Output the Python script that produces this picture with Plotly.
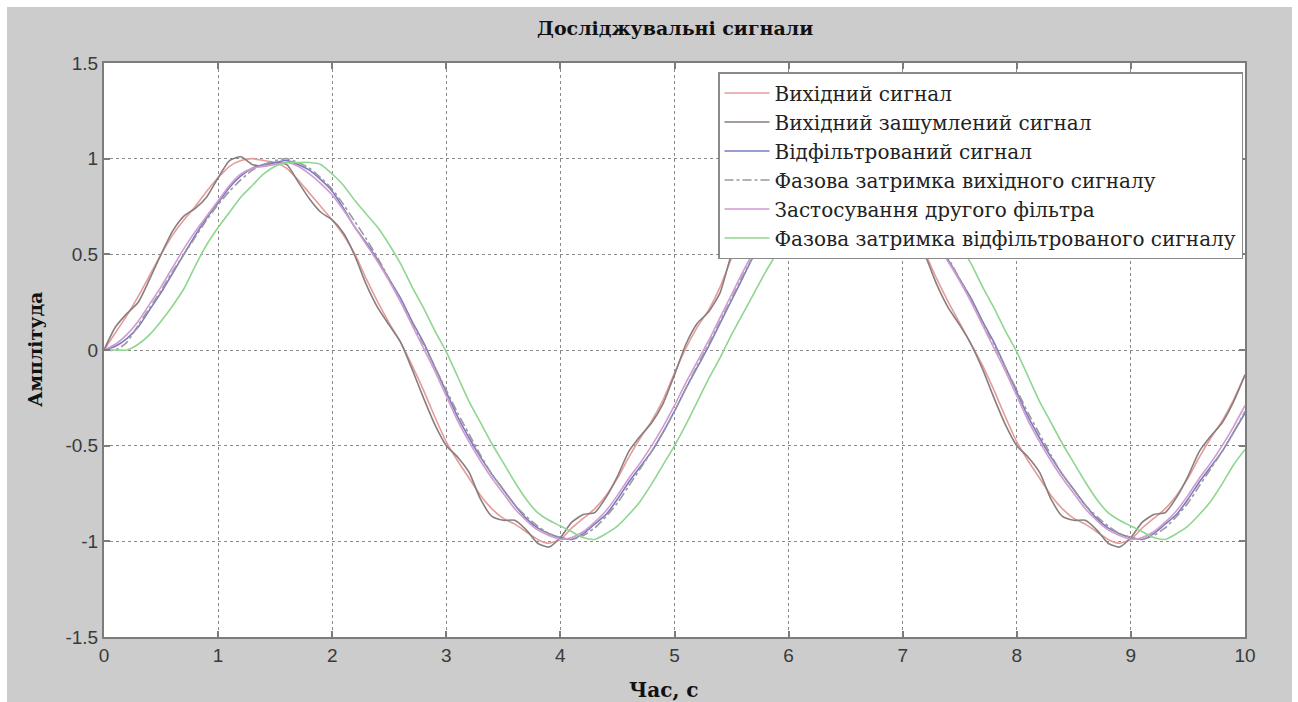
import plotly.graph_objects as go

# Sampling instants, s
time_s = [
    0.0, 0.1, 0.2, 0.3, 0.4, 0.5, 0.6, 0.7, 0.8, 0.9,
    1.0, 1.1, 1.2, 1.3, 1.4, 1.5, 1.6, 1.7, 1.8, 1.9,
    2.0, 2.1, 2.2, 2.3, 2.4, 2.5, 2.6, 2.7, 2.8, 2.9,
    3.0, 3.1, 3.2, 3.3, 3.4, 3.5, 3.6, 3.7, 3.8, 3.9,
    4.0, 4.1, 4.2, 4.3, 4.4, 4.5, 4.6, 4.7, 4.8, 4.9,
    5.0, 5.1, 5.2, 5.3, 5.4, 5.5, 5.6, 5.7, 5.8, 5.9,
    6.0, 6.1, 6.2, 6.3, 6.4, 6.5, 6.6, 6.7, 6.8, 6.9,
    7.0, 7.1, 7.2, 7.3, 7.4, 7.5, 7.6, 7.7, 7.8, 7.9,
    8.0, 8.1, 8.2, 8.3, 8.4, 8.5, 8.6, 8.7, 8.8, 8.9,
    9.0, 9.1, 9.2, 9.3, 9.4, 9.5, 9.6, 9.7, 9.8, 9.9,
    10.0,
]

source_signal = [
    0.00, 0.09, 0.18, 0.28, 0.39, 0.50, 0.60, 0.68, 0.75, 0.83,
    0.90, 0.96, 0.99, 1.00, 0.99, 0.98, 0.95, 0.89, 0.82, 0.75,
    0.68, 0.60, 0.50, 0.37, 0.25, 0.14, 0.04, -0.08, -0.21, -0.35,
    -0.48, -0.58, -0.67, -0.76, -0.83, -0.88, -0.91, -0.95, -0.99, -1.01,
    -0.99, -0.93, -0.88, -0.83, -0.76, -0.67, -0.56, -0.46, -0.37, -0.26,
    -0.12, 0.01, 0.12, 0.21, 0.33, 0.48, 0.60, 0.68, 0.76, 0.83,
    0.90, 0.96, 0.99, 1.00, 0.99, 0.98, 0.95, 0.89, 0.82, 0.75,
    0.68, 0.60, 0.50, 0.37, 0.25, 0.14, 0.03, -0.08, -0.21, -0.35,
    -0.48, -0.58, -0.67, -0.76, -0.83, -0.88, -0.91, -0.95, -0.99, -1.01,
    -0.99, -0.93, -0.88, -0.83, -0.76, -0.67, -0.56, -0.46, -0.37, -0.26,
    -0.13,
]

noisy_signal = [
    0.00, 0.12, 0.19, 0.25, 0.37, 0.50, 0.62, 0.70, 0.74, 0.80,
    0.90, 0.99, 1.01, 0.97, 0.96, 0.98, 0.97, 0.88, 0.79, 0.72,
    0.68, 0.61, 0.49, 0.34, 0.22, 0.13, 0.04, -0.10, -0.25, -0.39,
    -0.50, -0.56, -0.64, -0.78, -0.87, -0.89, -0.89, -0.94, -1.01, -1.03,
    -0.98, -0.90, -0.86, -0.85, -0.77, -0.66, -0.53, -0.45, -0.38, -0.28,
    -0.13, 0.03, 0.14, 0.20, 0.30, 0.50, 0.62, 0.70, 0.75, 0.81,
    0.90, 0.99, 1.01, 0.97, 0.96, 0.98, 0.97, 0.88, 0.79, 0.72,
    0.68, 0.61, 0.49, 0.34, 0.22, 0.13, 0.03, -0.10, -0.25, -0.39,
    -0.50, -0.56, -0.64, -0.78, -0.87, -0.89, -0.89, -0.94, -1.01, -1.03,
    -0.98, -0.90, -0.86, -0.85, -0.77, -0.66, -0.53, -0.45, -0.38, -0.27,
    -0.13,
]

filtered_signal = [
    0.00, 0.02, 0.06, 0.12, 0.21, 0.30, 0.40, 0.50, 0.60, 0.69,
    0.77, 0.85, 0.91, 0.95, 0.97, 0.98, 0.99, 0.97, 0.94, 0.89,
    0.83, 0.74, 0.64, 0.56, 0.47, 0.37, 0.27, 0.15, 0.04, -0.09,
    -0.22, -0.35, -0.46, -0.56, -0.65, -0.73, -0.81, -0.88, -0.93, -0.96,
    -0.98, -0.99, -0.96, -0.91, -0.86, -0.78, -0.69, -0.61, -0.53, -0.43,
    -0.32, -0.20, -0.09, 0.02, 0.14, 0.26, 0.38, 0.50, 0.60, 0.69,
    0.77, 0.85, 0.91, 0.95, 0.97, 0.98, 0.99, 0.97, 0.94, 0.89,
    0.83, 0.74, 0.64, 0.56, 0.47, 0.37, 0.27, 0.15, 0.04, -0.09,
    -0.22, -0.35, -0.46, -0.56, -0.65, -0.73, -0.81, -0.88, -0.93, -0.96,
    -0.98, -0.99, -0.96, -0.91, -0.86, -0.78, -0.69, -0.61, -0.53, -0.43,
    -0.33,
]

source_delayed = [
    0.00, 0.00, 0.04, 0.13, 0.22, 0.31, 0.41, 0.50, 0.59, 0.68,
    0.76, 0.83, 0.89, 0.94, 0.97, 0.99, 1.00, 0.98, 0.95, 0.90,
    0.84, 0.76, 0.67, 0.58, 0.48, 0.37, 0.26, 0.14, 0.03, -0.09,
    -0.21, -0.33, -0.44, -0.55, -0.65, -0.73, -0.81, -0.87, -0.92, -0.96,
    -0.98, -0.99, -0.97, -0.93, -0.87, -0.80, -0.71, -0.62, -0.53, -0.43,
    -0.32, -0.20, -0.08, 0.03, 0.15, 0.27, 0.39, 0.50, 0.59, 0.68,
    0.76, 0.83, 0.89, 0.94, 0.97, 0.99, 1.00, 0.98, 0.95, 0.90,
    0.84, 0.76, 0.67, 0.58, 0.48, 0.37, 0.26, 0.14, 0.03, -0.09,
    -0.21, -0.33, -0.44, -0.55, -0.65, -0.73, -0.81, -0.87, -0.92, -0.96,
    -0.98, -0.99, -0.97, -0.93, -0.87, -0.80, -0.71, -0.62, -0.53, -0.43,
    -0.32,
]

second_filter = [
    0.00, 0.03, 0.08, 0.15, 0.24, 0.33, 0.43, 0.53, 0.62, 0.70,
    0.78, 0.86, 0.92, 0.95, 0.96, 0.97, 0.98, 0.96, 0.92, 0.87,
    0.81, 0.73, 0.64, 0.55, 0.46, 0.36, 0.25, 0.13, 0.01, -0.11,
    -0.24, -0.37, -0.48, -0.58, -0.67, -0.75, -0.83, -0.89, -0.94, -0.97,
    -0.99, -0.98, -0.95, -0.90, -0.84, -0.76, -0.67, -0.59, -0.50, -0.40,
    -0.29, -0.17, -0.06, 0.05, 0.17, 0.29, 0.41, 0.52, 0.62, 0.70,
    0.78, 0.86, 0.92, 0.95, 0.96, 0.97, 0.98, 0.96, 0.92, 0.87,
    0.81, 0.73, 0.64, 0.55, 0.46, 0.36, 0.25, 0.13, 0.01, -0.11,
    -0.24, -0.37, -0.48, -0.58, -0.67, -0.75, -0.83, -0.89, -0.94, -0.97,
    -0.99, -0.98, -0.95, -0.90, -0.84, -0.76, -0.67, -0.59, -0.50, -0.40,
    -0.29,
]

filtered_delayed = [
    0.00, 0.00, 0.00, 0.03, 0.08, 0.15, 0.23, 0.32, 0.44, 0.55,
    0.64, 0.72, 0.80, 0.86, 0.92, 0.96, 0.98, 0.98, 0.98, 0.97,
    0.92, 0.86, 0.78, 0.71, 0.64, 0.55, 0.45, 0.33, 0.22, 0.10,
    -0.01, -0.14, -0.27, -0.38, -0.49, -0.59, -0.69, -0.78, -0.85, -0.89,
    -0.92, -0.95, -0.98, -0.99, -0.96, -0.92, -0.86, -0.79, -0.70, -0.60,
    -0.50, -0.39, -0.27, -0.15, -0.04, 0.08, 0.19, 0.30, 0.41, 0.51,
    0.62, 0.71, 0.79, 0.86, 0.92, 0.96, 0.98, 0.98, 0.98, 0.97,
    0.92, 0.86, 0.78, 0.71, 0.64, 0.55, 0.45, 0.33, 0.22, 0.10,
    -0.01, -0.14, -0.27, -0.38, -0.49, -0.59, -0.69, -0.78, -0.85, -0.89,
    -0.92, -0.95, -0.98, -0.99, -0.96, -0.92, -0.86, -0.79, -0.70, -0.60,
    -0.52,
]

series_names = [
    "Вихідний сигнал",
    "Вихідний зашумлений сигнал",
    "Відфільтрований сигнал",
    "Фазова затримка вихідного сигналу",
    "Застосування другого фільтра",
    "Фазова затримка відфільтрованого сигналу",
]
series_values = [source_signal, noisy_signal, filtered_signal,
                 source_delayed, second_filter, filtered_delayed]
series_colors = ["#e49c9c", "#8a7d7d", "#7a7ac4", "#9a9a9a", "#d29ad2", "#8fd68f"]
series_dash = ["solid", "solid", "solid", "dashdot", "solid", "solid"]

x_ticks = [0, 1, 2, 3, 4, 5, 6, 7, 8, 9, 10]
y_ticks = [-1.5, -1, -0.5, 0, 0.5, 1, 1.5]
y_tick_text = ["-1.5", "-1", "-0.5", "0", "0.5", "1", "1.5"]

SERIF = "DejaVu Serif"
SANS = "Liberation Sans, Arial, sans-serif"

fig = go.Figure()
for name, vals, col, dash in zip(series_names, series_values, series_colors, series_dash):
    fig.add_trace(go.Scatter(
        x=time_s, y=vals, name=name, mode="lines",
        line=dict(color=col, width=1.6, dash=dash, shape="spline", smoothing=0.6),
    ))

W, H = 1298, 702
ML, MR, MT, MB = 104, 53, 63, 65
pw, ph = W - ML - MR, H - MT - MB


def px_x(p):
    return (p - ML) / pw


def px_y(p):
    return (H - MB - p) / ph


axis_common = dict(
    showgrid=True, griddash="dot", gridcolor="#8a8a8a", gridwidth=1.4,
    showline=True, linecolor="#7c7c7c", linewidth=2, mirror="ticks",
    ticks="inside", ticklen=6, tickcolor="#7c7c7c", tickwidth=1.5,
    zeroline=False,
    tickfont=dict(family=SANS, size=19, color="#3a3a3a"),
)

fig.update_layout(
    width=W, height=H,
    margin=dict(l=ML, r=MR, t=MT, b=MB, pad=0),
    paper_bgcolor="#ffffff",
    plot_bgcolor="#ffffff",
    xaxis=dict(range=[0, 10], tickvals=x_ticks, **axis_common),
    yaxis=dict(range=[-1.5, 1.5], tickvals=y_ticks, ticktext=y_tick_text, **axis_common),
    showlegend=True,
    legend=dict(
        x=px_x(718), y=px_y(72), xanchor="left", yanchor="top",
        bgcolor="#ffffff", bordercolor="#8a8a8a", borderwidth=1.5,
        font=dict(family=SERIF, size=20, color="#222222"),
        tracegroupgap=0, itemwidth=45,
    ),
    shapes=[
        dict(type="rect", xref="paper", yref="paper",
             x0=px_x(7), x1=px_x(1292), y0=px_y(702), y1=px_y(7),
             fillcolor="#cccccc", line=dict(width=0), layer="below"),
        dict(type="rect", xref="paper", yref="paper",
             x0=0, x1=1, y0=0, y1=1,
             fillcolor="#ffffff", line=dict(width=0), layer="below"),
    ],
    annotations=[
        dict(text="<b>Досліджувальні сигнали</b>", xref="paper", yref="paper",
             x=0.5, y=px_y(28), xanchor="center", yanchor="middle", showarrow=False,
             font=dict(family=SERIF, size=19, color="#111111")),
        dict(text="<b>Час, с</b>", xref="paper", yref="paper",
             x=px_x(664), y=px_y(690), xanchor="center", yanchor="middle", showarrow=False,
             font=dict(family=SERIF, size=20, color="#111111")),
        dict(text="<b>Амплітуда</b>", xref="paper", yref="paper",
             x=px_x(35), y=px_y(350), xanchor="center", yanchor="middle", showarrow=False,
             textangle=-90,
             font=dict(family=SERIF, size=19, color="#111111")),
    ],
)

fig.write_html("out.html")
